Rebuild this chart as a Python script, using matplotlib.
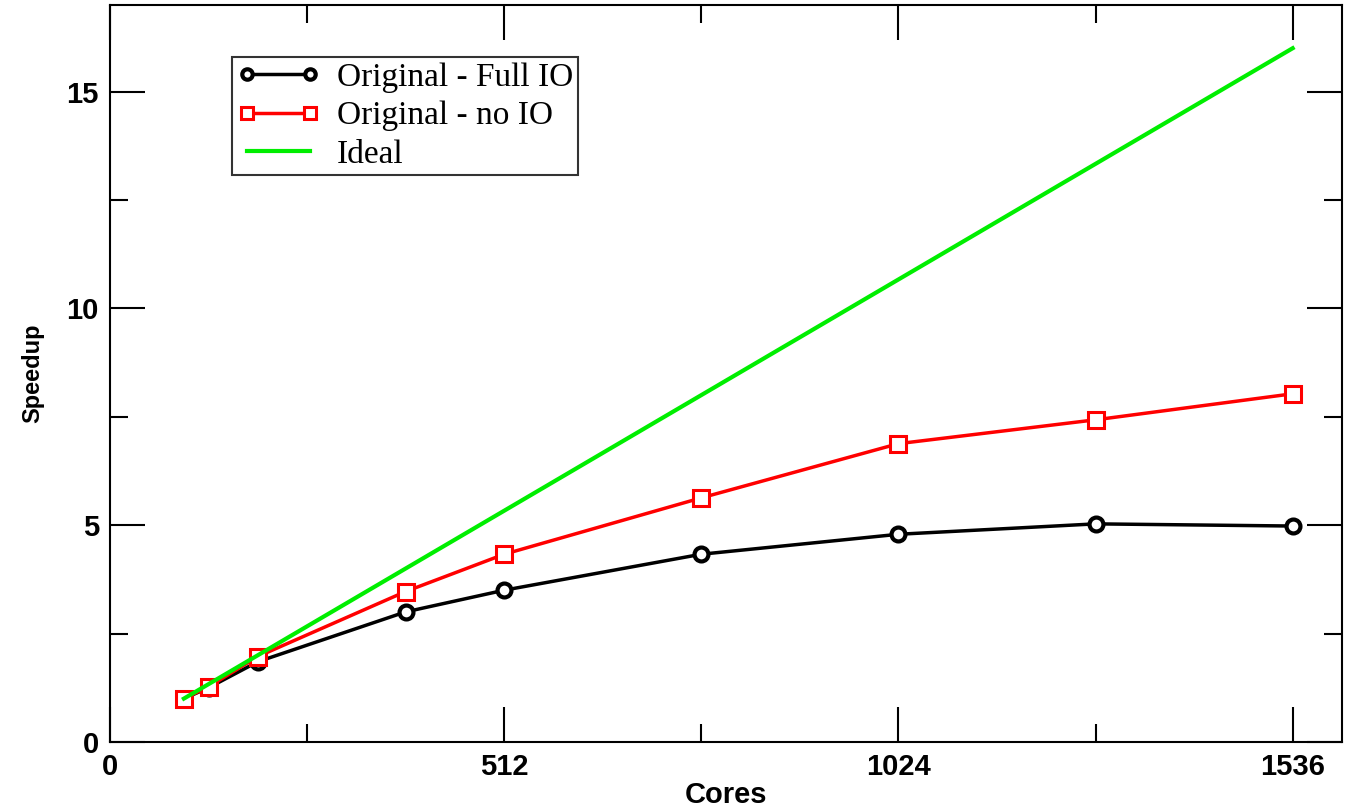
import matplotlib.pyplot as plt
from matplotlib.ticker import MultipleLocator

cores = [96, 128, 192, 384, 512, 768, 1024, 1280, 1536]
full_io = [1.0, 1.25, 1.85, 3.0, 3.5, 4.33, 4.79, 5.03, 4.98]
no_io = [1.0, 1.27, 1.97, 3.47, 4.33, 5.63, 6.88, 7.43, 8.03]
ideal = [c / 96 for c in cores]

fig = plt.figure(figsize=(13.46, 8.1), dpi=100)
ax = fig.add_axes([0.0817, 0.084, 0.9153, 0.91])

ax.plot(cores, full_io, color="black", lw=2.5, marker="o", ms=10, mfc="white",
        mec="black", mew=3, label="Original - Full IO", zorder=2)
ax.plot(cores, no_io, color="red", lw=2.5, marker="s", ms=12, mfc="white",
        mec="red", mew=2.2, label="Original - no IO", zorder=3)
ax.plot(cores, ideal, color="#00ee00", lw=3, label="Ideal", zorder=4)

ax.set_xlim(0, 1600)
ax.set_ylim(0, 17)
ax.xaxis.set_major_locator(MultipleLocator(512))
ax.xaxis.set_minor_locator(MultipleLocator(256))
ax.yaxis.set_major_locator(MultipleLocator(5))
ax.yaxis.set_minor_locator(MultipleLocator(2.5))
ax.tick_params(which="both", direction="in", top=True, right=True, width=1.5)
ax.tick_params(which="major", length=25, labelsize=21, pad=8)
ax.tick_params(which="minor", length=13)
for lab in ax.get_xticklabels() + ax.get_yticklabels():
    lab.set_fontweight("bold")
    lab.set_family("Liberation Sans")
for s in ax.spines.values():
    s.set_linewidth(1.5)

ax.set_xlabel("Cores", fontsize=21, fontweight="bold", family="Liberation Sans", labelpad=0)
ax.set_ylabel("Speedup", fontsize=17, fontweight="bold", family="Liberation Sans", labelpad=16)

leg = ax.legend(loc="upper left", bbox_to_anchor=(0.099, 0.929),
                prop={"family": "Liberation Serif", "size": 24},
                frameon=True, fancybox=False, edgecolor="black",
                borderaxespad=0, handlelength=2.5, handletextpad=0.5,
                labelspacing=0.24, borderpad=0.15, numpoints=2,
                markerscale=0.75)
leg.get_frame().set_linewidth(1.5)

fig.savefig("out.png", dpi=100)
